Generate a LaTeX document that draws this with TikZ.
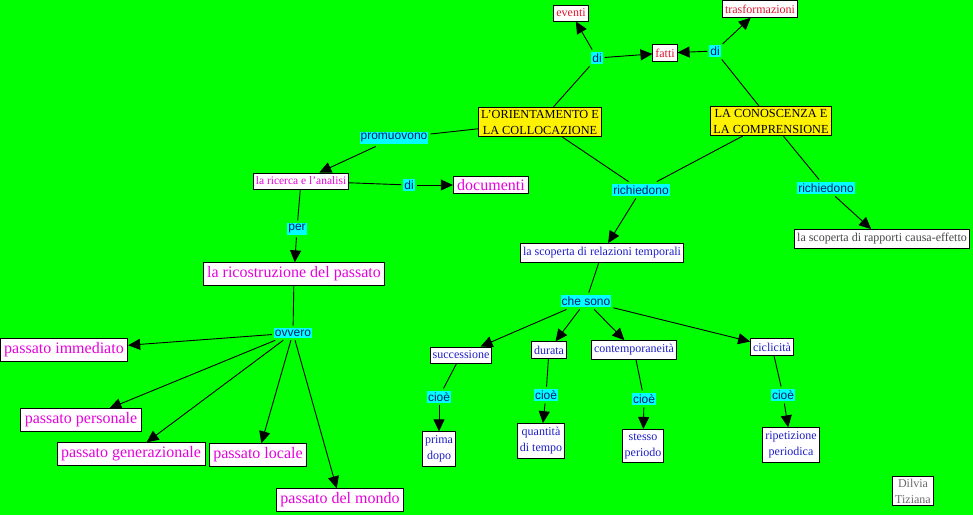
\documentclass[tikz,border=0pt]{standalone}
\usepackage{fontspec}
\setmainfont{Liberation Serif}
\setsansfont{Liberation Sans}
\usetikzlibrary{arrows.meta}

\definecolor{bgreen}{RGB}{0,255,0}
\definecolor{lkfill}{RGB}{0,255,255}
\definecolor{lktext}{RGB}{0,30,110}
\definecolor{cnred}{RGB}{225,20,45}
\definecolor{cnmag}{RGB}{230,0,220}
\definecolor{cnblue}{RGB}{30,30,200}
\definecolor{cngrey}{RGB}{70,70,70}

\begin{document}
\begin{tikzpicture}[
    x=1pt, y=-1pt,
    cn/.style={draw=black, fill=white, line width=0.8pt, align=center,
               inner xsep=2.5pt, inner ysep=4pt, font=\fontsize{12}{16}\selectfont},
    big/.style={cn, text=cnmag, inner xsep=4pt, inner ysep=4pt,
                font=\fontsize{16}{18}\selectfont},
    key/.style={cn, fill=yellow, inner xsep=3pt, inner ysep=2.5pt,
                font=\fontsize{12.3}{16}\selectfont},
    lk/.style={fill=lkfill, text=lktext, inner xsep=1pt, inner ysep=2pt, outer sep=2pt,
               font=\sffamily\fontsize{12}{13}\selectfont},
    ln/.style={line width=0.9pt},
    tr/.style={-{Triangle[length=12pt,width=11pt]}, line width=0.9pt}
]
\fill[bgreen] (0,0) rectangle (973,515);
\useasboundingbox (0,0) rectangle (973,515);

% concetti
\node[cn, text=cnred] (eventi) at (571,13) {eventi};
\node[cn, text=cnred] (trasf) at (760,9) {trasformazioni};
\node[cn, text=cnred] (fatti) at (665,53) {fatti};
\node[key] (orient) at (540,122) {L'ORIENTAMENTO E\\LA COLLOCAZIONE};
\node[key] (conosc) at (771,121) {LA CONOSCENZA E\\LA COMPRENSIONE};
\node[cn, text=cnmag, font=\fontsize{11.5}{14}\selectfont] (ricerca) at (301,181) {la ricerca e l'analisi};
\node[big, inner ysep=3pt] (documenti) at (491,185) {documenti};
\node[big] (ricostr) at (294,274) {la ricostruzione del passato};
\node[big] (immediato) at (64,350) {passato immediato};
\node[big] (personale) at (81,420) {passato personale};
\node[big] (generaz) at (131,454) {passato generazionale};
\node[big] (locale) at (258,455) {passato locale};
\node[big] (mondo) at (340,500) {passato del mondo};
\node[cn, text=cnblue] (relaz) at (602,253) {la scoperta di relazioni temporali};
\node[cn, text=cngrey] (causa) at (882,239) {la scoperta di rapporti causa-effetto};
\node[cn, text=cnblue] (succ) at (461,355) {successione};
\node[cn, text=cnblue] (durata) at (549,350) {durata};
\node[cn, text=cnblue] (contemp) at (634,350) {contemporaneità};
\node[cn, text=cnblue] (ciclic) at (772,347) {ciclicità};
\node[cn, text=cnblue] (prima) at (439,449) {prima\\dopo};
\node[cn, text=cnblue] (quantita) at (541,441) {quantità\\di tempo};
\node[cn, text=cnblue] (stesso) at (643,446) {stesso\\periodo};
\node[cn, text=cnblue] (ripet) at (791,445) {ripetizione\\periodica};
\node[cn, text=cngrey!80, inner ysep=2.5pt] (autori) at (913,491) {Dilvia\\Tiziana};

% frasi di legame
\node[lk] (di1) at (597,58) {di};
\node[lk] (di2) at (715,51) {di};
\node[lk] (promuov) at (394,138) {promuovono};
\node[lk] (rich1) at (641,190) {richiedono};
\node[lk] (rich2) at (826,188) {richiedono};
\node[lk] (di3) at (409,185) {di};
\node[lk] (per) at (297,229) {per};
\node[lk] (ovvero) at (293,333) {ovvero};
\node[lk] (chesono) at (586,301) {che sono};
\node[lk] (cioe1) at (439,397) {cioè};
\node[lk] (cioe2) at (546,395) {cioè};
\node[lk] (cioe3) at (644,399) {cioè};
\node[lk] (cioe4) at (783,395) {cioè};

% collegamenti
\draw[ln] (orient) -- (di1);
\draw[tr] (di1) -- (eventi);
\draw[tr] (di1) -- (fatti);
\draw[ln] (conosc) -- (di2);
\draw[tr] (di2) -- (fatti);
\draw[tr] (di2) -- (trasf);

\draw[ln] (orient) -- (promuov);
\draw[tr] (promuov) -- (ricerca);
\draw[ln] (orient) -- (rich1);
\draw[ln] (conosc) -- (rich1);
\draw[tr] (rich1) -- (relaz);
\draw[ln] (conosc) -- (rich2);
\draw[tr] (rich2) -- (causa);

\draw[ln] (ricerca) -- (di3);
\draw[tr] (di3) -- (documenti);
\draw[ln] (ricerca) -- (per);
\draw[tr] (per) -- (ricostr);
\draw[ln] (ricostr) -- (ovvero);
\foreach \t in {immediato,personale,generaz,locale,mondo}
    \draw[tr] (ovvero) -- (\t);

\draw[ln] (relaz) -- (chesono);
\foreach \t in {succ,durata,contemp,ciclic}
    \draw[tr] (chesono) -- (\t);
\draw[ln] (succ) -- (cioe1);
\draw[tr] (cioe1) -- (prima);
\draw[ln] (durata) -- (cioe2);
\draw[tr] (cioe2) -- (quantita);
\draw[ln] (contemp) -- (cioe3);
\draw[tr] (cioe3) -- (stesso);
\draw[ln] (ciclic) -- (cioe4);
\draw[tr] (cioe4) -- (ripet);
\end{tikzpicture}
\end{document}
